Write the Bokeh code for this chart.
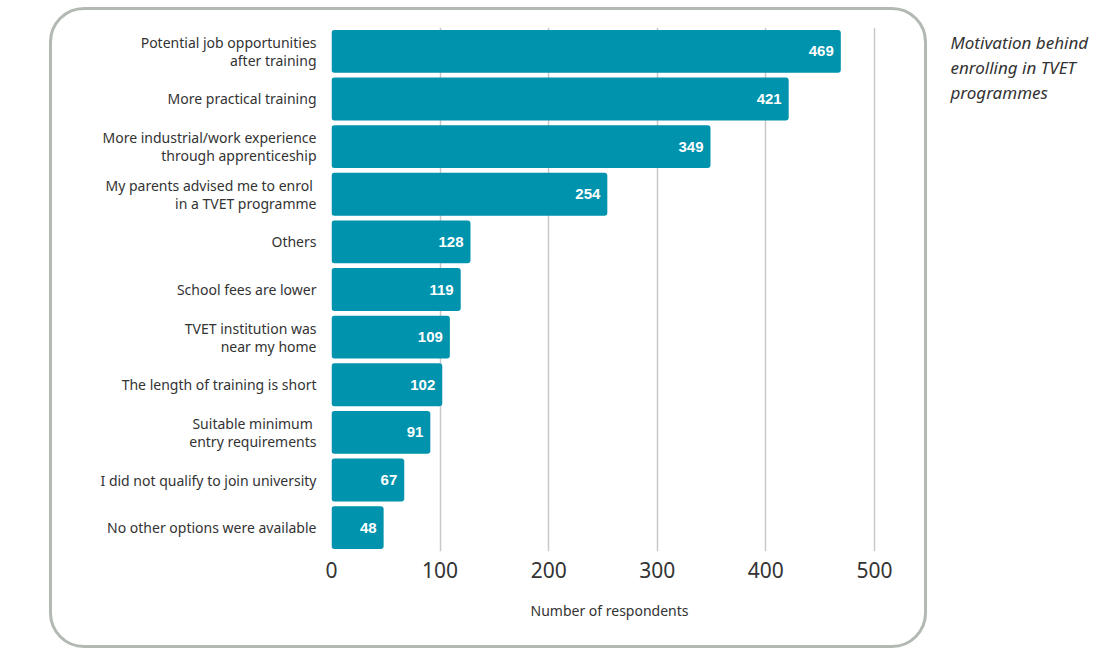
from bokeh.plotting import figure
from bokeh.models import ColumnDataSource, FactorRange, Range1d, Label, FixedTicker, LabelSet
from bokeh.layouts import row, column
from bokeh.core.properties import value
from bokeh.embed import file_html
from bokeh.resources import INLINE

categories = [
    "Potential job opportunities\nafter training",
    "More practical training",
    "More industrial/work experience\nthrough apprenticeship",
    "My parents advised me to enrol \nin a TVET programme",
    "Others",
    "School fees are lower",
    "TVET institution was\nnear my home",
    "The length of training is short",
    "Suitable minimum \nentry requirements",
    "I did not qualify to join university",
    "No other options were available",
]
counts = [469, 421, 349, 254, 128, 119, 109, 102, 91, 67, 48]
x_ticks = [0, 100, 200, 300, 400, 500]
x_label = "Number of respondents"
title_lines = ["Motivation behind", "enrolling in TVET", "programmes"]

BAR = "#0093ad"
TXT = "#333333"

src = ColumnDataSource(dict(cat=categories, n=counts, lab=[str(c) for c in counts]))

p = figure(width=872, height=635, output_backend="svg", toolbar_location=None,
           y_range=FactorRange(factors=categories[::-1], range_padding=0),
           x_range=Range1d(0, 512),
           min_border_left=279, min_border_right=37,
           min_border_top=17, min_border_bottom=94)
p.outline_line_color = None
p.background_fill_color = None
p.border_fill_color = None

p.hbar(y="cat", right="n", left=0, height=0.9, source=src, fill_color=BAR,
       line_color=None, border_radius=3)

labels = LabelSet(x="n", y="cat", text="lab", source=src, x_offset=-7,
                  text_align="right", text_baseline="middle", text_color="white",
                  text_font=value("Liberation Sans"), text_font_size="15px",
                  text_font_style="bold")
p.add_layout(labels)

p.ygrid.grid_line_color = None
p.xgrid.ticker = FixedTicker(ticks=x_ticks)
p.xgrid.grid_line_color = "#c8c8c8"
p.xgrid.grid_line_width = 1.5
p.xgrid.level = "underlay"

xa = p.xaxis[0]
xa.ticker = FixedTicker(ticks=x_ticks)
xa.axis_line_color = None
xa.major_tick_line_color = None
xa.minor_tick_line_color = None
xa.major_tick_out = 0
xa.major_label_standoff = 10
xa.major_label_text_font = "Noto Sans"
xa.major_label_text_font_size = "21px"
xa.major_label_text_color = TXT
xa.axis_label = x_label
xa.axis_label_standoff = 20
xa.axis_label_text_font = "Noto Sans"
xa.axis_label_text_font_size = "14px"
xa.axis_label_text_font_style = "normal"
xa.axis_label_text_color = TXT

ya = p.yaxis[0]
ya.axis_line_color = None
ya.major_tick_line_color = None
ya.minor_tick_line_color = None
ya.major_tick_out = 0
ya.major_label_standoff = 15
ya.major_label_text_font = "Noto Sans"
ya.major_label_text_font_size = "14px"
ya.major_label_text_color = TXT
ya.major_label_text_line_height = 0.95

box = column(p, margin=(7, 0, 0, 49),
             styles={"border": "3px solid #b2b9b3", "border-radius": "35px"})

tfig = figure(width=170, height=120, output_backend="svg", toolbar_location=None,
              x_range=Range1d(0, 170), y_range=Range1d(0, 120),
              min_border=0, margin=(7, 0, 0, 0))
tfig.axis.visible = False
tfig.grid.visible = False
tfig.outline_line_color = None
tfig.background_fill_color = None
tfig.border_fill_color = None
title = Label(x=23, y=97, text="\n".join(title_lines),
              text_font="Noto Sans", text_font_style="italic", text_font_size="17px",
              text_color=TXT, text_align="left", text_baseline="top",
              text_line_height=1.1)
tfig.add_layout(title)

layout = row(box, tfig)
open("out.html", "w").write(file_html(layout, INLINE))
